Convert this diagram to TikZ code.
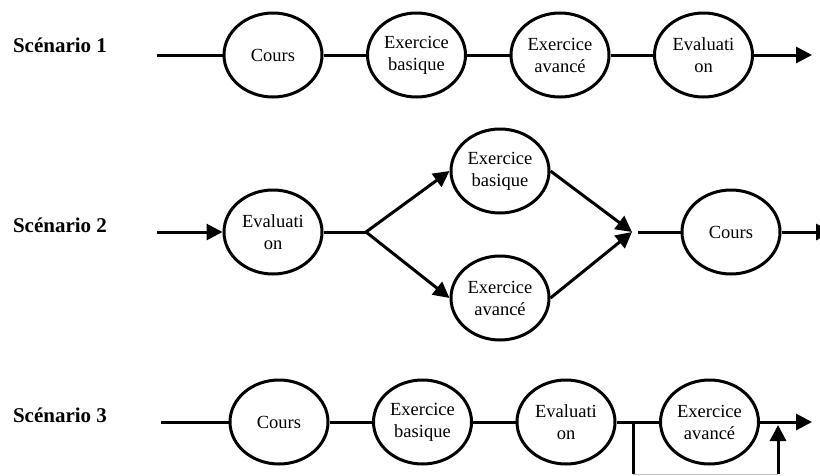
\documentclass[tikz,border=0pt]{standalone}
\usepackage{fontspec}
\setmainfont{Liberation Serif}
\usetikzlibrary{arrows.meta,shapes.geometric,positioning}

\begin{document}
\begin{tikzpicture}[x=1pt,y=-1pt,node distance=143.5pt,line width=3pt,
  >={Triangle[length=16pt,width=16pt]},
  etape/.style={ellipse,draw,line width=3pt,minimum width=98pt,minimum height=84pt,
    inner sep=0pt,align=center,font=\fontsize{18.5}{22}\selectfont},
  titre/.style={font=\fontsize{21}{25}\selectfont\bfseries}]
\useasboundingbox (0,0) rectangle (820,475);

% Scenario 1
\node[titre]          (titre_1) at (60,45)      {Scénario 1};
\coordinate           (d_1)     at (157,55);
\node[etape]          (cours_1) at (273,55)     {Cours};
\node[etape]          (basique_1) [right of=cours_1] {Exercice\\basique};
\node[etape]          (avance_1)  [right of=basique_1] {Exercice\\avancé};
\node[etape]          (eval_1)    [right of=avance_1] {Evaluati\\on};
\coordinate           (f_1)     at (812,55);
\path (d_1)       edge (cours_1)
      (cours_1)   edge (basique_1)
      (basique_1) edge (avance_1)
      (avance_1)  edge (eval_1)
      (eval_1)    edge[->] (f_1);

% Scenario 2
\node[titre]          (titre_2) at (60,225)     {Scénario 2};
\coordinate           (d_2)     at (157,232);
\node[etape]          (eval_2)  at (273,232)    {Evaluati\\on};
\coordinate           (j_2)     at (366,232);
\node[etape]          (basique_2) at (500,171)  {Exercice\\basique};
\node[etape]          (avance_2)  at (500,298)  {Exercice\\avancé};
\coordinate           (m_2)     at (632,232);
\coordinate           (n_2)     at (638,232);
\node[etape]          (cours_2) at (731,232)    {Cours};
\coordinate           (f_2)     at (832,232);
\path (d_2)       edge[->] (eval_2)
      (eval_2)    edge (j_2)
      (j_2)       edge[->] (basique_2.west)
      (j_2)       edge[->] (avance_2.west)
      (basique_2.east) edge[->] (m_2)
      (avance_2.east)  edge[->] (m_2)
      (n_2)       edge (cours_2)
      (cours_2)   edge[->] (f_2);

% Scenario 3
\node[titre]          (titre_3) at (60,415)     {Scénario 3};
\coordinate           (d_3)     at (161,422);
\node[etape]          (cours_3) at (279,422)    {Cours};
\node[etape]          (basique_3) [right of=cours_3] {Exercice\\basique};
\node[etape]          (eval_3)    [right of=basique_3] {Evaluati\\on};
\node[etape]          (avance_3)  [right of=eval_3] {Exercice\\avancé};
\coordinate           (f_3)     at (812,422);
\coordinate           (j_3)     at (633,422);
\coordinate           (b_3)     at (633,474);
\coordinate           (c_3)     at (778,474);
\coordinate           (u_3)     at (778,425);
\path (d_3)       edge (cours_3)
      (cours_3)   edge (basique_3)
      (basique_3) edge (eval_3)
      (eval_3)    edge (avance_3)
      (avance_3)  edge[->] (f_3)
      (j_3)       edge (b_3)
      (b_3)       edge[line width=1pt,gray!50] (c_3)
      (c_3)       edge[->] (u_3);
\end{tikzpicture}
\end{document}
